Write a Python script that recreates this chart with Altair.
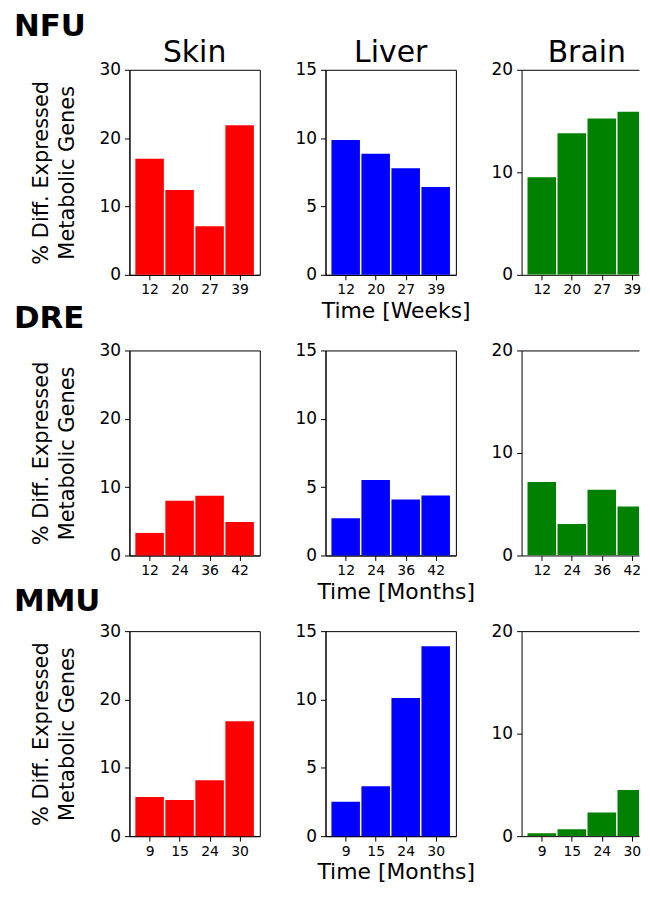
import json
import pandas as pd
import altair as alt

FONT = "DejaVu Sans"

species = ["NFU", "DRE", "MMU"]
tissues = ["Skin", "Liver", "Brain"]
colors = ["#ff0000", "#0000ff", "#008000"]
y_max = [30, 15, 20]
y_ticks = [[0, 10, 20, 30], [0, 5, 10, 15], [0, 10, 20]]

times = [
    ["12", "20", "27", "39"],
    ["12", "24", "36", "42"],
    ["9", "15", "24", "30"],
]
time_titles = ["Time [Weeks]", "Time [Months]", "Time [Months]"]

skin_nfu = [17.0, 12.4, 7.1, 21.9]
liver_nfu = [9.86, 8.86, 7.79, 6.43]
brain_nfu = [9.52, 13.8, 15.24, 15.9]

skin_dre = [3.3, 8.0, 8.75, 4.9]
liver_dre = [2.73, 5.53, 4.09, 4.38]
brain_dre = [7.18, 3.06, 6.41, 4.78]

skin_mmu = [5.74, 5.3, 8.18, 16.8]
liver_mmu = [2.51, 3.66, 10.1, 13.9]
brain_mmu = [0.29, 0.67, 2.3, 4.5]

values = [
    [skin_nfu, liver_nfu, brain_nfu],
    [skin_dre, liver_dre, brain_dre],
    [skin_mmu, liver_mmu, brain_mmu],
]

BAR_W = 0.95
XLO, XHI = -0.6725, 3.6725
FULL_W = 131
BRAIN_W = 118
PANEL_H = 206
ROW_LABEL_DY = [-57.5, -47, -44]


def text_layer(s, x, y, size, weight, align, baseline):
    return alt.Chart(pd.DataFrame({"s": [s]})).mark_text(
        align=align, baseline=baseline, fontSize=size, fontWeight=weight,
        font=FONT, color="black",
    ).encode(x=alt.value(x), y=alt.value(y), text="s:N")


def panel(r, c):
    labels = times[r]
    df = pd.DataFrame({"idx": list(range(len(labels))), "t": labels, "v": values[r][c]})
    w = BRAIN_W if c == 2 else FULL_W
    xhi = XLO + (XHI - XLO) * w / FULL_W
    xs = alt.Scale(domain=[XLO, xhi], nice=False, zero=False)
    ys = alt.Scale(domain=[0, y_max[c]], nice=False)
    label_expr = json.dumps(labels) + "[datum.value]"
    xaxis_kw = dict(
        values=list(range(len(labels))), labelExpr=label_expr,
        labelFontSize=14, labelPadding=3, domain=True,
    )
    if c == 1:
        xaxis = alt.Axis(title=time_titles[r], titleFontSize=22, titleFontWeight="normal",
                         titlePadding=4, titleX=w / 2 + 5, **xaxis_kw)
    else:
        xaxis = alt.Axis(title=None, **xaxis_kw)
    if c == 0:
        yaxis = alt.Axis(
            values=y_ticks[c], title=["% Diff. Expressed", "Metabolic Genes"],
            titleFontSize=21, titleFontWeight="normal", titleLineHeight=26,
            titlePadding=22, labelFontSize=17, labelPadding=4,
        )
    else:
        yaxis = alt.Axis(values=y_ticks[c], title=None, labelFontSize=17, labelPadding=4)

    base = alt.Chart(df).transform_calculate(
        lo=f"datum.idx - {BAR_W / 2}", hi=f"datum.idx + {BAR_W / 2}", zero="0"
    )
    bars = base.mark_bar(color=colors[c], clip=(c == 2)).encode(
        x=alt.X("lo:Q", scale=xs, axis=xaxis),
        x2="hi:Q",
        y=alt.Y("v:Q", scale=ys, axis=yaxis),
        y2="zero:Q",
    )
    layers = [bars]
    if c == 0:
        layers.append(text_layer(species[r], -116, ROW_LABEL_DY[r], 31, "bold", "left", "top"))
    if r == 0:
        layers.append(text_layer(tissues[c], FULL_W / 2, -8, 30, "normal", "center", "alphabetic"))
    if c == 2:
        top = base.mark_bar(opacity=0, clip=True).encode(
            x=alt.X("lo:Q", scale=xs, axis=alt.Axis(orient="top", labels=False, ticks=False,
                                                     domain=True, title=None)),
            x2="hi:Q",
            y=alt.Y("v:Q", scale=ys),
            y2="zero:Q",
        )
        layers.append(top)
    ch = alt.layer(*layers)
    if c == 2:
        ch = ch.resolve_axis(x="independent")
    props = dict(width=w, height=PANEL_H)
    if c == 2:
        props["view"] = alt.ViewBackground(stroke="transparent")
    return ch.properties(**props)


panels = [panel(r, c) for r in range(3) for c in range(3)]

chart = alt.concat(
    *panels, columns=3, spacing={"row": 76, "column": 66}, bounds="flush"
).properties(
    padding={"left": 5, "top": 1, "right": 0, "bottom": 0}
).configure(
    font=FONT
).configure_view(
    stroke="black", strokeWidth=1
).configure_axis(
    grid=False, domainColor="black", domainWidth=1, tickColor="black", tickWidth=1,
    tickSize=5, labelColor="black", titleColor="black", labelFont=FONT, titleFont=FONT,
)

chart.save("out.html", embed_options={"renderer": "svg", "actions": False})
